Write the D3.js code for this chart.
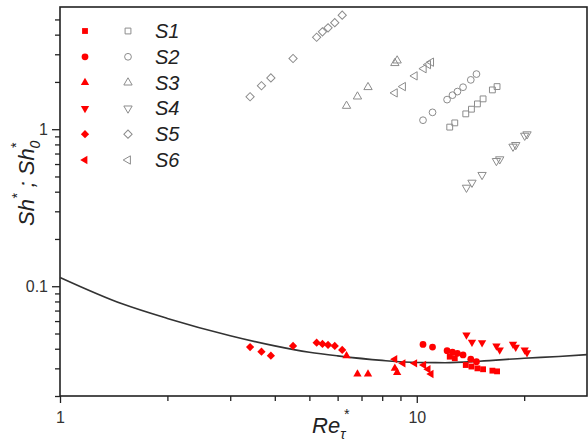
<!DOCTYPE html>
<html>
<head>
<meta charset="utf-8">
<script src="https://cdn.jsdelivr.net/npm/d3@7"></script>
<style>
  body { margin: 0; background: #fff; }
  svg { font-family: Arial, "Liberation Sans", sans-serif; }
</style>
</head>
<body>
<div id="chart"></div>
<script>
var svgWidth = 588;
var svgHeight = 441;

// series names and shared Re_tau* values
var seriesNames = ["S1", "S2", "S3", "S4", "S5", "S6"];

var reS1 = [12.37, 12.78, 13.72, 14.23, 14.79, 15.34, 16.29, 16.79];
var shS1 = [1.031, 1.097, 1.252, 1.341, 1.449, 1.560, 1.779, 1.868];
var sh0S1 = [0.0356, 0.0348, 0.0315, 0.0308, 0.0300, 0.0296, 0.0290, 0.0287];

var reS2 = [10.41, 11.07, 12.16, 12.59, 13.00, 13.48, 14.17, 14.70];
var shS2 = [1.141, 1.28, 1.543, 1.647, 1.736, 1.851, 2.061, 2.244];
var sh0S2 = [0.0426, 0.0410, 0.0389, 0.0380, 0.0374, 0.0365, 0.0343, 0.0331];

var reS3 = [6.355, 6.82, 7.30, 8.68, 8.81];
var shS3 = [1.407, 1.613, 1.851, 2.633, 2.735];
var sh0S3 = [0.0361, 0.0276, 0.0276, 0.0300, 0.0282];

var reS4 = [13.78, 14.28, 15.24, 16.72, 17.08, 18.61, 18.94, 20.07, 20.37];
var shS4 = [0.4246, 0.457, 0.512, 0.628, 0.644, 0.775, 0.794, 0.910, 0.929];
var sh0S4 = [0.0490, 0.0440, 0.0437, 0.0417, 0.0393, 0.0427, 0.0409, 0.0393, 0.0378];

var reS5 = [3.41, 3.67, 3.90, 4.50, 5.24, 5.44, 5.64, 5.89, 6.18];
var shS5 = [1.61, 1.89, 2.12, 2.82, 3.85, 4.17, 4.42, 4.77, 5.32];
var sh0S5 = [0.0410, 0.0383, 0.0361, 0.0417, 0.0437, 0.0429, 0.0423, 0.0417, 0.0393];

var reS6 = [8.68, 9.15, 9.87, 10.46, 10.76, 10.97];
var shS6 = [1.703, 1.868, 2.185, 2.429, 2.579, 2.672];
var sh0S6 = [0.0343, 0.0323, 0.0323, 0.0315, 0.0296, 0.0276];

// correlation curve
var curveX = [1, 1.5, 2, 3, 4, 5, 6, 8, 10, 12, 15, 20, 25, 30];
var curveY = [0.1138, 0.0770, 0.0624, 0.0484, 0.0417, 0.0380, 0.0360, 0.0337, 0.0327, 0.0326, 0.0333, 0.0348, 0.0357, 0.0367];

// ticks
var xMajor = [1, 10];
var xMinor = [2, 3, 4, 5, 6, 7, 8, 9, 20];
var yMajor = [0.1, 1];
var yMinor = [0.02, 0.03, 0.04, 0.05, 0.06, 0.07, 0.08, 0.09,
  0.2, 0.3, 0.4, 0.5, 0.6, 0.7, 0.8, 0.9, 2, 3, 4, 5];

var plot = { left: 60, right: 587, top: 7, bottom: 396 };

var svg = d3.select("#chart")
  .append("svg")
  .attr("width", svgWidth)
  .attr("height", svgHeight);

var xScale = d3.scaleLog().domain([1, 30]).range([plot.left, plot.right]);
var yScale = d3.scaleLog().domain([0.02, 6]).range([plot.bottom, plot.top]);

// one shape per series
var tri = d3.symbolTriangle;
var shapes = {
  S1: { type: d3.symbolSquare, rot: 0, size: 34 },
  S2: { type: d3.symbolCircle, rot: 0, size: 36 },
  S3: { type: tri, rot: 0, size: 30 },
  S4: { type: tri, rot: 180, size: 30 },
  S5: { type: d3.symbolSquare, rot: 45, size: 34 },
  S6: { type: tri, rot: -90, size: 30 }
};

function symbolPath(name) {
  var s = shapes[name];
  return d3.symbol().type(s.type).size(s.size)();
}

var allSeries = [
  { name: "S1", re: reS1, sh: shS1, sh0: sh0S1 },
  { name: "S2", re: reS2, sh: shS2, sh0: sh0S2 },
  { name: "S3", re: reS3, sh: shS3, sh0: sh0S3 },
  { name: "S4", re: reS4, sh: shS4, sh0: sh0S4 },
  { name: "S5", re: reS5, sh: shS5, sh0: sh0S5 },
  { name: "S6", re: reS6, sh: shS6, sh0: sh0S6 }
];

// minor ticks first, then major ticks with labels
svg.append("g")
  .attr("transform", `translate(0, ${plot.bottom})`)
  .call(d3.axisBottom(xScale).tickValues(xMinor).tickSize(5).tickFormat(""))
  .call(g => g.select(".domain").remove());

svg.append("g")
  .attr("transform", `translate(0, ${plot.bottom})`)
  .call(d3.axisBottom(xScale).tickValues(xMajor).tickSize(7).tickPadding(9).tickFormat(d3.format("~g")))
  .call(g => g.select(".domain").remove())
  .selectAll("text").attr("font-size", 16).attr("fill", "#333");

svg.append("g")
  .attr("transform", `translate(${plot.left}, 0)`)
  .call(d3.axisLeft(yScale).tickValues(yMinor).tickSize(5).tickFormat(""))
  .call(g => g.select(".domain").remove());

svg.append("g")
  .attr("transform", `translate(${plot.left}, 0)`)
  .call(d3.axisLeft(yScale).tickValues(yMajor).tickSize(8).tickPadding(4).tickFormat(d3.format("~g")))
  .call(g => g.select(".domain").remove())
  .selectAll("text").attr("font-size", 16).attr("fill", "#333");

svg.selectAll(".tick line").attr("stroke", "#222").attr("stroke-width", 1.3);

// frame
svg.append("rect")
  .attr("x", plot.left)
  .attr("y", plot.top)
  .attr("width", plot.right - plot.left)
  .attr("height", plot.bottom - plot.top)
  .attr("fill", "none")
  .attr("stroke", "#222")
  .attr("stroke-width", 1.6);

// curve
var line = d3.line()
  .x(d => xScale(d[0]))
  .y(d => yScale(d[1]))
  .curve(d3.curveMonotoneX);

svg.append("path")
  .datum(curveX.map((x, i) => [x, curveY[i]]))
  .attr("d", line)
  .attr("fill", "none")
  .attr("stroke", "#333")
  .attr("stroke-width", 1.6);

// points: open grey = Sh*, filled red = Sh0*
allSeries.forEach(function(s) {
  var rot = shapes[s.name].rot;
  svg.append("g").selectAll("path")
    .data(s.re.map((x, i) => [x, s.sh[i]]))
    .enter()
    .append("path")
    .attr("d", symbolPath(s.name))
    .attr("transform", d => `translate(${xScale(d[0])}, ${yScale(d[1])}) rotate(${rot})`)
    .attr("fill", "none")
    .attr("stroke", "#8c8c8c")
    .attr("stroke-width", 1);

  svg.append("g").selectAll("path")
    .data(s.re.map((x, i) => [x, s.sh0[i]]))
    .enter()
    .append("path")
    .attr("d", symbolPath(s.name))
    .attr("transform", d => `translate(${xScale(d[0])}, ${yScale(d[1])}) rotate(${rot})`)
    .attr("fill", "#ff0000");
});

// legend
var legend = svg.append("g");
seriesNames.forEach(function(name, i) {
  var y = 31 + i * 25.8;
  var rot = shapes[name].rot;
  legend.append("path")
    .attr("d", symbolPath(name))
    .attr("transform", `translate(85, ${y}) rotate(${rot})`)
    .attr("fill", "#ff0000");
  legend.append("path")
    .attr("d", symbolPath(name))
    .attr("transform", `translate(128, ${y}) rotate(${rot})`)
    .attr("fill", "none")
    .attr("stroke", "#8c8c8c")
    .attr("stroke-width", 1);
  legend.append("text")
    .attr("x", 155)
    .attr("y", y + 7)
    .attr("font-size", 20)
    .attr("font-style", "italic")
    .attr("fill", "#222")
    .text(name);
});

// axis titles
var xTitle = svg.append("text")
  .attr("x", 312)
  .attr("y", 433)
  .attr("font-size", 22)
  .attr("font-style", "italic")
  .attr("fill", "#222");
xTitle.append("tspan").text("Re");
xTitle.append("tspan").attr("font-size", 14).attr("dy", 6).text("τ");
xTitle.append("tspan").attr("font-size", 14).attr("dx", -2).attr("dy", -20).text("*");

var yTitle = svg.append("text")
  .attr("transform", "translate(34, 226) rotate(-90)")
  .attr("font-size", 22)
  .attr("font-style", "italic")
  .attr("fill", "#222");
yTitle.append("tspan").text("Sh");
yTitle.append("tspan").attr("font-size", 14).attr("dy", -12).text("*");
yTitle.append("tspan").attr("dy", 12).text(" ; Sh");
yTitle.append("tspan").attr("font-size", 14).attr("dy", 6).text("0");
yTitle.append("tspan").attr("font-size", 14).attr("dx", -8).attr("dy", -19).text("*");
</script>
</body>
</html>
